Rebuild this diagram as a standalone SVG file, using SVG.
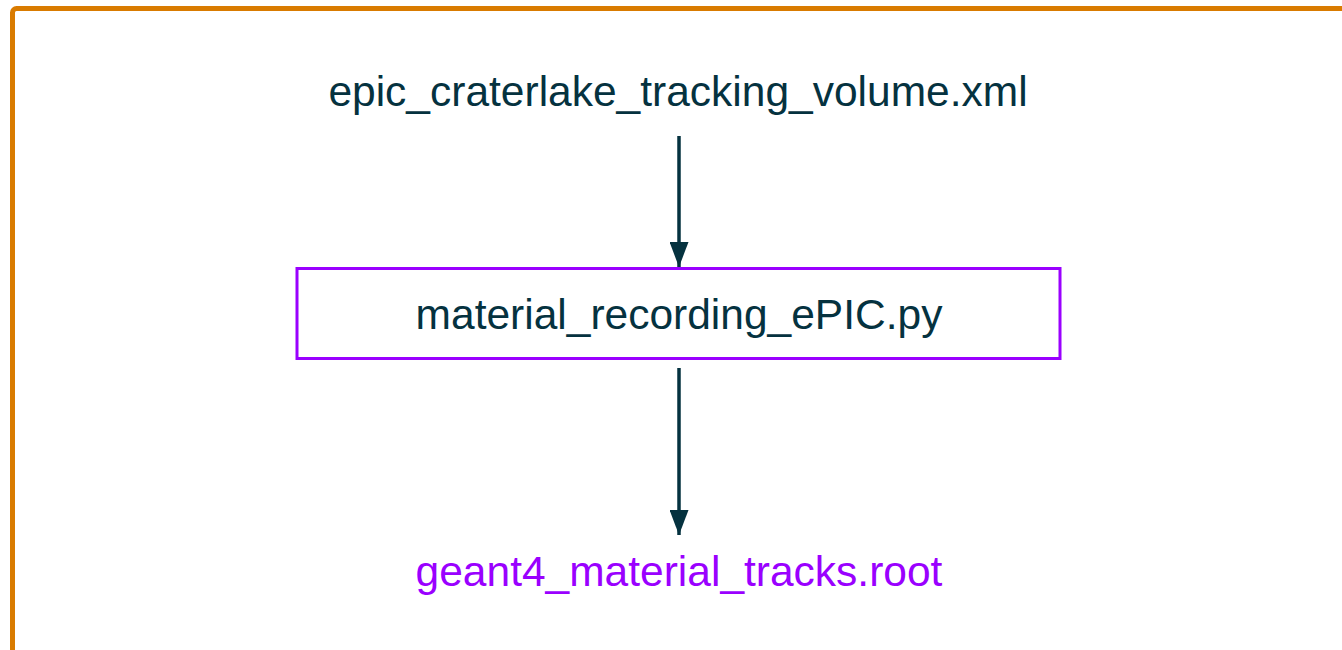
<svg xmlns="http://www.w3.org/2000/svg" width="1342" height="650" viewBox="0 0 1342 650">
  <style>
    .label { font-family: "Liberation Sans", Arial, sans-serif; font-size: 42.5px; text-anchor: middle; }
    .dark { fill: #05323f; }
    .violet { fill: #9a00ff; }
    .edge { stroke: #05323f; stroke-width: 3.5; fill: none; }
  </style>
  <defs>
    <marker id="arrow" markerWidth="25" markerHeight="19" refX="25" refY="9.5" orient="auto" markerUnits="userSpaceOnUse" viewBox="0 0 25 19">
      <path d="M0,0 L25,9.5 L0,19 Z" fill="#05323f"/>
    </marker>
  </defs>

  <rect width="1342" height="650" fill="#ffffff"/>

  <!-- outer frame -->
  <g id="frame">
    <rect x="12.5" y="8.5" width="1400" height="700" rx="4" fill="none" stroke="#d97b00" stroke-width="5"/>
  </g>

  <!-- connectors -->
  <g id="connectors">
    <line class="edge" x1="679" y1="136" x2="679" y2="267" marker-end="url(#arrow)"/>
    <line class="edge" x1="679" y1="368" x2="679" y2="535" marker-end="url(#arrow)"/>
  </g>

  <g id="node-geometry">
    <text class="label dark" x="678" y="106">epic_craterlake_tracking_volume.xml</text>
  </g>

  <g id="node-script">
    <rect x="297" y="268.5" width="763" height="90" fill="#ffffff" stroke="#9a00ff" stroke-width="3"/>
    <text class="label dark" x="679" y="329">material_recording_ePIC.py</text>
  </g>

  <g id="node-output">
    <text class="label violet" x="679" y="586">geant4_material_tracks.root</text>
  </g>
</svg>
